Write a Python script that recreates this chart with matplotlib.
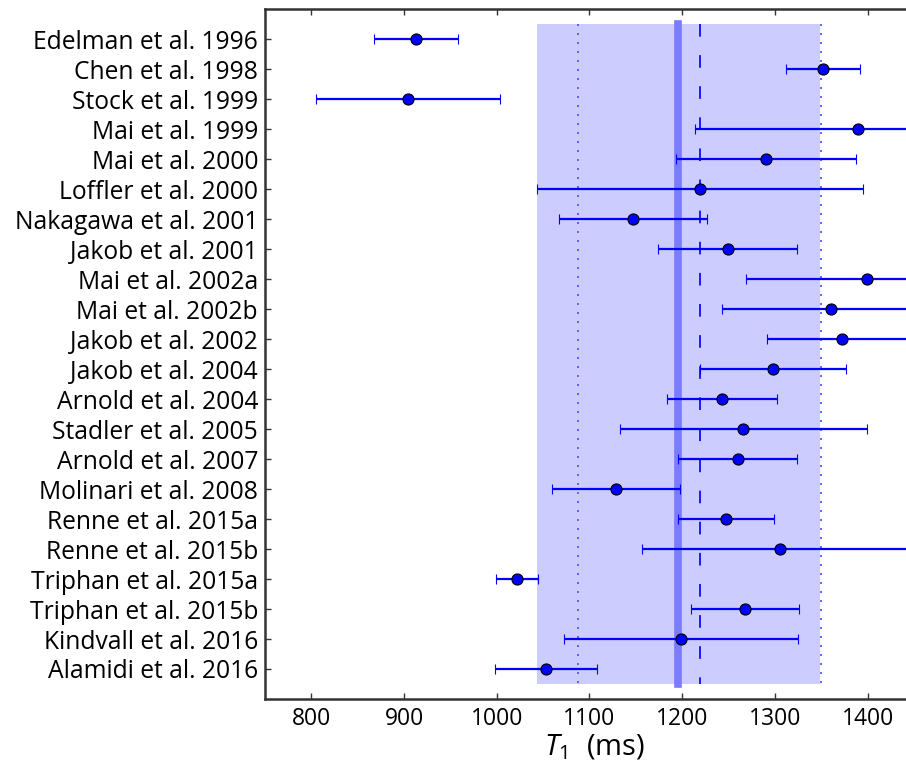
import matplotlib.pyplot as plt
import numpy as np

plt.rcParams['font.family'] = ['Open Sans', 'DejaVu Sans']
plt.rcParams['mathtext.fontset'] = 'custom'
plt.rcParams['mathtext.it'] = 'Open Sans:italic'
plt.rcParams['mathtext.rm'] = 'Open Sans'

studies = ['Edelman et al. 1996', 'Chen et al. 1998', 'Stock et al. 1999',
           'Mai et al. 1999', 'Mai et al. 2000', 'Loffler et al. 2000',
           'Nakagawa et al. 2001', 'Jakob et al. 2001', 'Mai et al. 2002a',
           'Mai et al. 2002b', 'Jakob et al. 2002', 'Jakob et al. 2004',
           'Arnold et al. 2004', 'Stadler et al. 2005', 'Arnold et al. 2007',
           'Molinari et al. 2008', 'Renne et al. 2015a', 'Renne et al. 2015b',
           'Triphan et al. 2015a', 'Triphan et al. 2015b', 'Kindvall et al. 2016',
           'Alamidi et al. 2016']
t1 = [913, 1352, 904, 1390, 1290, 1219, 1147, 1249, 1399, 1360, 1372,
      1298, 1243, 1266, 1260, 1129, 1247, 1306, 1022, 1268, 1199, 1053]
t1_sd = [45, 40, 99, 176, 97, 176, 80, 75, 130, 117, 81,
         79, 59, 133, 64, 69, 52, 149, 23, 58, 126, 55]

# summary values
mean_t1 = 1219
sd_t1 = 131
pooled_t1 = 1196
pooled_range = 153

rows = np.arange(1, len(studies) + 1)

fig = plt.figure(figsize=(9.06, 7.65), dpi=100)
ax = fig.add_axes([0.2925, 0.0863, 0.7265, 0.9015])

# shaded band and reference lines
ax.fill_betweenx([0.5, 22.5], pooled_t1 - pooled_range, pooled_t1 + pooled_range,
                 color='#ccccff', lw=0, zorder=1)
ax.plot([pooled_t1, pooled_t1], [0.5, 22.5], color='#7b7bff', lw=5.5,
        solid_capstyle='projecting', zorder=2)
ax.plot([mean_t1, mean_t1], [0.5, 22.5], color='#1a1aff', lw=1.4,
        dashes=(6.5, 9.5), zorder=2)
for v in [mean_t1 - sd_t1, mean_t1 + sd_t1]:
    ax.plot([v, v], [0.5, 22.5], color='#4d4dff', lw=1.2, dashes=(1.2, 4.2), zorder=2)

ax.errorbar(t1, rows, xerr=t1_sd, fmt='o', color='blue', ecolor='blue',
            mec='black', mew=0.8, ms=8, elinewidth=1.6, capsize=3.6,
            capthick=1.6, zorder=3)

ax.set_xlim(750, 1460)
ax.set_ylim(23, 0)
ax.set_xticks(np.arange(800, 1500, 100))
ax.set_yticks(rows)
ax.set_yticklabels(studies, fontsize=17.7)
ax.set_xlabel('$T_1$  (ms)', fontsize=21, labelpad=1)

for s in ax.spines.values():
    s.set_linewidth(1.8)
    s.set_color('#333333')
ax.tick_params(direction='in', length=4.5, width=1, top=True, right=True,
               color='#333333')
ax.tick_params(axis='x', pad=6, labelsize=16.5)
ax.tick_params(axis='y', pad=5)

fig.savefig('out.png', dpi=100)
